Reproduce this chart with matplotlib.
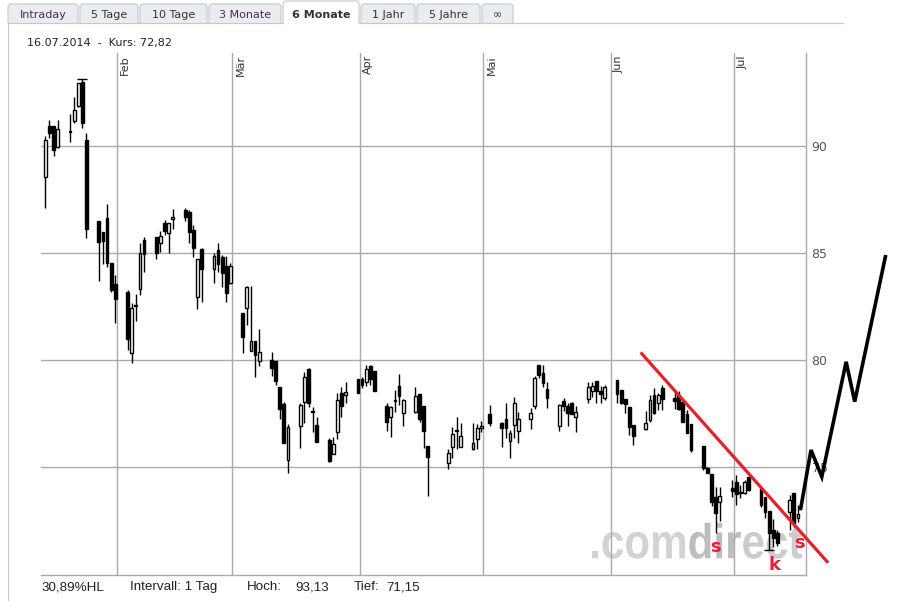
import matplotlib
matplotlib.use("Agg")
import matplotlib.pyplot as plt
import matplotlib.dates as mdates
from matplotlib.patches import FancyBboxPatch, Rectangle, PathPatch
from matplotlib.textpath import TextPath, TextToPath
from matplotlib.font_manager import FontProperties
from matplotlib.transforms import Affine2D
import pandas as pd
import numpy as np

# ---------------- data ----------------
dates = [
    "2014-01-14", "2014-01-15", "2014-01-16", "2014-01-17", "2014-01-20", "2014-01-21", "2014-01-22",
    "2014-01-23", "2014-01-24", "2014-01-27", "2014-01-28", "2014-01-29", "2014-01-30", "2014-01-31",
    "2014-02-03", "2014-02-04", "2014-02-05", "2014-02-06", "2014-02-07", "2014-02-10", "2014-02-11",
    "2014-02-12", "2014-02-13", "2014-02-14", "2014-02-17", "2014-02-18", "2014-02-19", "2014-02-20",
    "2014-02-21", "2014-02-24", "2014-02-25", "2014-02-26", "2014-02-27", "2014-02-28", "2014-03-03",
    "2014-03-04", "2014-03-05", "2014-03-06", "2014-03-07", "2014-03-10", "2014-03-11", "2014-03-12",
    "2014-03-13", "2014-03-14", "2014-03-17", "2014-03-18", "2014-03-19", "2014-03-20", "2014-03-21",
    "2014-03-24", "2014-03-25", "2014-03-26", "2014-03-27", "2014-03-28", "2014-03-31", "2014-04-01",
    "2014-04-02", "2014-04-03", "2014-04-04", "2014-04-07", "2014-04-08", "2014-04-09", "2014-04-10",
    "2014-04-11", "2014-04-14", "2014-04-15", "2014-04-16", "2014-04-17", "2014-04-22", "2014-04-23",
    "2014-04-24", "2014-04-25", "2014-04-28", "2014-04-29", "2014-04-30", "2014-05-02", "2014-05-05",
    "2014-05-06", "2014-05-07", "2014-05-08", "2014-05-09", "2014-05-12", "2014-05-13", "2014-05-14",
    "2014-05-15", "2014-05-16", "2014-05-19", "2014-05-20", "2014-05-21", "2014-05-22", "2014-05-23",
    "2014-05-26", "2014-05-27", "2014-05-28", "2014-05-29", "2014-05-30", "2014-06-02", "2014-06-03",
    "2014-06-04", "2014-06-05", "2014-06-06", "2014-06-09", "2014-06-10", "2014-06-11", "2014-06-12",
    "2014-06-13", "2014-06-16", "2014-06-17", "2014-06-18", "2014-06-19", "2014-06-20", "2014-06-23",
    "2014-06-24", "2014-06-25", "2014-06-26", "2014-06-27", "2014-06-30", "2014-07-01", "2014-07-02",
    "2014-07-03", "2014-07-04", "2014-07-07", "2014-07-08", "2014-07-09", "2014-07-10", "2014-07-11",
    "2014-07-14", "2014-07-15", "2014-07-16",
]
opens = [
    88.58, 90.95, 90.95, 89.95, 90.70, 91.20, 91.90, 92.99, 90.29, 86.51, 85.98, 86.65, 84.56, 83.55,
    83.17, 80.36, 82.57, 83.32, 85.62, 85.78, 85.50, 86.40, 85.96, 86.59, 87.02, 86.93, 86.09, 82.97,
    85.19, 84.25, 85.16, 84.81, 84.41, 83.63, 82.20, 82.43, 80.45, 80.89, 79.98, 80.02, 79.97, 78.74,
    77.96, 75.34, 76.95, 78.07, 79.59, 77.62, 76.98, 76.28, 75.61, 76.67, 78.46, 78.38, 79.15, 79.11,
    79.00, 79.73, 79.50, 77.86, 77.34, 78.09, 78.80, 77.52, 77.57, 78.43, 77.86, 76.00, 75.19, 75.96,
    76.69, 75.96, 75.85, 76.31, 76.86, 77.48, 77.09, 77.24, 76.23, 76.98, 76.70, 77.24, 77.87, 79.78,
    79.39, 78.64, 76.93, 78.12, 77.87, 77.99, 77.37, 78.18, 78.59, 79.05, 78.55, 78.22, 79.08, 78.61,
    78.18, 77.84, 76.98, 76.77, 77.21, 78.40, 78.02, 78.69, 78.22, 78.38, 78.07, 77.49, 77.02, 76.00,
    74.95, 74.69, 73.63, 73.40, 74.02, 74.33, 73.83, 73.81, 74.53, 74.02, 73.63, 72.97, 72.07, 71.95,
    72.93, 73.81, 72.65,
]
highs = [
    90.48, 91.23, 90.95, 91.23, 91.51, 92.29, 92.98, 93.13, 90.64, 86.51, 85.98, 87.30, 84.56, 83.99,
    83.29, 82.67, 83.11, 85.48, 85.78, 85.78, 86.04, 86.56, 86.40, 87.06, 87.10, 87.02, 86.32, 84.72,
    85.23, 85.00, 85.50, 84.92, 84.87, 84.56, 82.20, 83.47, 83.47, 80.89, 81.45, 80.40, 79.97, 78.74,
    78.07, 77.02, 77.99, 79.46, 79.62, 77.80, 77.34, 76.36, 76.44, 78.49, 78.74, 79.00, 79.15, 79.20,
    79.78, 79.78, 79.50, 77.99, 77.86, 78.60, 79.36, 78.20, 78.74, 78.43, 77.86, 76.00, 75.88, 76.90,
    77.33, 77.05, 77.05, 77.02, 77.16, 77.91, 77.13, 77.99, 76.74, 78.27, 77.60, 77.76, 79.27, 79.78,
    79.78, 79.00, 77.96, 78.22, 77.99, 78.05, 77.87, 79.00, 79.00, 79.05, 78.81, 78.86, 79.08, 78.61,
    78.18, 77.84, 76.98, 77.65, 78.38, 78.69, 78.46, 78.85, 78.58, 78.58, 78.18, 77.68, 77.02, 76.00,
    75.03, 74.69, 74.10, 74.10, 74.41, 74.64, 74.18, 74.41, 74.53, 74.02, 73.63, 72.97, 72.57, 72.07,
    73.71, 73.81, 73.24,
]
lows = [
    87.10, 90.37, 89.56, 89.91, 90.22, 91.10, 91.85, 90.84, 85.73, 83.72, 84.50, 84.34, 83.17, 81.73,
    80.48, 79.89, 81.85, 83.06, 84.15, 84.74, 85.08, 85.86, 85.03, 86.12, 86.52, 85.47, 84.81, 82.38,
    82.74, 83.60, 84.14, 83.41, 82.71, 83.57, 80.36, 81.65, 80.45, 79.20, 79.75, 79.27, 78.85, 77.24,
    76.15, 74.72, 75.89, 77.06, 77.80, 76.67, 76.20, 75.26, 75.61, 76.31, 77.34, 78.02, 78.49, 78.69,
    78.80, 78.86, 78.55, 76.72, 76.44, 77.60, 77.91, 76.95, 77.55, 77.13, 75.89, 73.67, 74.91, 75.42,
    75.88, 75.96, 75.83, 75.85, 76.66, 76.93, 75.96, 76.35, 75.42, 76.35, 76.15, 76.77, 77.71, 79.16,
    78.74, 77.76, 76.71, 77.65, 76.93, 77.49, 76.66, 77.99, 78.27, 78.02, 78.02, 78.15, 77.99, 77.96,
    77.53, 76.51, 76.04, 76.74, 77.13, 77.50, 77.68, 77.68, 77.71, 77.68, 77.13, 76.59, 75.73, 74.87,
    74.72, 73.20, 71.95, 72.47, 73.63, 73.24, 73.55, 73.75, 73.90, 73.16, 72.62, 71.15, 71.30, 71.32,
    72.07, 72.22, 72.46,
]
closes = [
    90.29, 90.64, 89.83, 90.79, 90.66, 91.70, 92.94, 91.10, 86.12, 85.54, 85.59, 84.56, 83.29, 82.88,
    80.98, 82.43, 82.53, 85.00, 84.95, 85.00, 85.81, 86.06, 86.40, 86.71, 86.71, 86.01, 85.26, 84.72,
    84.25, 84.87, 84.48, 84.06, 83.13, 84.41, 81.07, 83.41, 80.89, 80.25, 80.40, 79.62, 79.05, 77.71,
    76.15, 76.87, 77.91, 79.20, 77.99, 77.58, 76.20, 75.31, 76.07, 78.14, 77.86, 78.53, 78.49, 78.84,
    79.58, 79.11, 78.57, 77.13, 77.80, 78.13, 78.33, 78.14, 78.33, 77.26, 76.72, 75.50, 75.65, 76.54,
    76.73, 76.46, 76.12, 76.82, 76.90, 77.09, 76.82, 76.82, 76.59, 78.02, 77.24, 77.56, 79.16, 79.31,
    78.93, 78.22, 77.91, 77.87, 77.53, 77.49, 77.60, 78.74, 78.81, 78.59, 78.42, 78.74, 78.43, 77.99,
    77.95, 76.90, 76.46, 77.05, 78.15, 77.56, 78.38, 78.18, 78.12, 77.71, 77.13, 76.62, 75.81, 74.95,
    74.75, 73.37, 72.86, 73.66, 73.91, 73.75, 73.79, 74.33, 73.94, 73.24, 72.93, 71.95, 71.68, 71.45,
    73.47, 72.38, 72.82,
]

y_ticks = [75, 80, 85, 90]
month_starts = ["2014-02-01", "2014-03-01", "2014-04-01", "2014-05-01", "2014-06-01", "2014-07-01"]
month_labels = ["Feb", "Mär", "Apr", "Mai", "Jun", "Jul"]

# hand-drawn annotations
trend_dates = ["2014-06-08 06:00", "2014-07-23 20:00"]
trend_vals = [80.37, 70.54]
proj_dates = ["2014-07-17 04:00", "2014-07-19 16:00", "2014-07-22 07:00",
              "2014-07-28 05:00", "2014-07-30 07:00", "2014-08-06 18:00"]
proj_vals = [73.08, 75.81, 74.56, 79.93, 78.07, 84.84]
marks_text = ["s", "k", "s"]
marks_dates = ["2014-06-26 12:00", "2014-07-10 18:00", "2014-07-16 18:00"]
marks_vals = [71.30, 70.42, 71.46]

tab_labels = ["Intraday", "5 Tage", "10 Tage", "3 Monate", "6 Monate", "1 Jahr", "5 Jahre", "∞"]
header_text = "16.07.2014  -  Kurs: 72,82"
footer_hl = "30,89%HL"
footer_interval = "Intervall: 1 Tag"
high_value = "93,13"
low_value = "71,15"

# ---------------- figure ----------------
W, H = 903, 601
fig = plt.figure(figsize=(W / 100, H / 100), dpi=100)
fig.patch.set_facecolor("white")

bg = fig.add_axes([0, 0, 1, 1], zorder=0)
bg.set_xlim(0, W)
bg.set_ylim(H, 0)
bg.axis("off")

# tabs
tab_edges = [(8, 78), (80, 138), (140, 207), (209, 281), (283, 359), (361, 415), (417, 480), (482, 513)]
active = 4
for i, (lab, (x0, x1)) in enumerate(zip(tab_labels, tab_edges)):
    top = 1 if i == active else 4
    fc = "white" if i == active else "#e9edf0"
    bg.add_patch(FancyBboxPatch((x0, top), x1 - x0, 30 - top,
                                boxstyle="round,pad=0,rounding_size=3",
                                fc=fc, ec="#c3c8cc", lw=0.8, zorder=1))
    col = "#4a2a55" if lab in ("Intraday", "3 Monate") else "#333333"
    bg.text((x0 + x1) / 2, 15 if i != active else 14.5, lab, ha="center", va="center",
            fontsize=8, family="DejaVu Sans", color=col,
            fontweight="bold" if i == active else "normal", zorder=3)
bg.add_patch(Rectangle((0, 22.5), W, 12, fc="white", ec="none", zorder=2))
bg.plot([8, 283], [22.5, 22.5], color="#c3c8cc", lw=0.8, zorder=3)
bg.plot([359, 843], [22.5, 22.5], color="#c3c8cc", lw=0.8, zorder=3)
bg.plot([8.5, 8.5], [22.5, H], color="#c8c8c8", lw=0.8, zorder=3)

bg.text(27, 43, header_text, ha="left", va="center", fontsize=8,
        family="DejaVu Sans", color="#222222")

ffam = "Liberation Sans"
fy = 587
bg.text(42, fy, footer_hl, ha="left", va="center", fontsize=9.6, family=ffam, color="#222222")
bg.text(130, fy, footer_interval, ha="left", va="center", fontsize=9.6, family=ffam, color="#222222")
bg.text(246.5, fy, "Hoch:", ha="left", va="center", fontsize=9.6, family=ffam, color="#222222")
bg.text(295, fy, high_value, ha="left", va="center", fontsize=9.6, family=ffam, color="#222222")
bg.text(353.5, fy, "Tief:", ha="left", va="center", fontsize=9.6, family=ffam, color="#222222")
bg.text(386.5, fy, low_value, ha="left", va="center", fontsize=9.6, family=ffam, color="#222222")

# watermark
wm_prop = FontProperties(family="Liberation Sans", weight="bold", size=100)
t2p = TextToPath()
pieces = [(".com", "#d2d2d2"), ("dir", "#bdbdbd"), ("ect", "#cccccc")]
xoff = 0.0
wm_paths = []
for s, c in pieces:
    p = TextPath((xoff, 0), s, size=100, prop=wm_prop)
    wm_paths.append((p, c))
    w, h, d = t2p.get_text_width_height_descent(s, wm_prop, ismath=False)
    xoff += w
xmin = wm_paths[0][0].get_extents().x0
xmax = wm_paths[-1][0].get_extents().x1
sx = (802 - 592) / (xmax - xmin)
sy = 0.49
tr = Affine2D().translate(-xmin, 0).scale(sx, -sy).translate(592, 558.3)
for p, c in wm_paths:
    bg.add_patch(PathPatch(tr.transform_path(p), fc=c, ec="none", zorder=1))

# ---------------- main chart ----------------
ax = fig.add_axes([41 / W, (H - 575) / H, 765 / W, 522 / H], zorder=1)
ax.patch.set_visible(False)

t = pd.to_datetime(dates) + pd.Timedelta(hours=12)
x = mdates.date2num(t.to_pydatetime())
o = np.array(opens); c = np.array(closes); hi = np.array(highs); lo = np.array(lows)

ax.vlines(x, lo, hi, color="black", lw=1.0, zorder=3)
up = c >= o
bottom = np.minimum(o, c)
height = np.maximum(np.abs(c - o), 0.05)
ax.bar(x[up], height[up], bottom=bottom[up], width=0.68, color="white",
       edgecolor="black", linewidth=1.0, zorder=4)
ax.bar(x[~up], height[~up], bottom=bottom[~up], width=0.68, color="black",
       edgecolor="black", linewidth=1.0, zorder=4)

# high / low markers
imax = int(np.argmax(hi)); imin = int(np.argmin(lo))
ax.hlines([hi[imax]], x[imax] - 1.25, x[imax] + 1.25, color="black", lw=1.0, zorder=4)
ax.hlines([lo[imin]], x[imin] - 1.25, x[imin] + 1.25, color="black", lw=1.0, zorder=4)

xl0 = mdates.date2num(pd.Timestamp("2014-01-13 10:48").to_pydatetime())
xl1 = mdates.date2num(pd.Timestamp("2014-07-18 10:48").to_pydatetime())
ax.set_xlim(xl0, xl1)
ax.set_ylim(69.97, 94.36)

ms = mdates.date2num(pd.to_datetime(month_starts).to_pydatetime())
ax.set_xticks(ms)
ax.set_xticklabels([])
ax.set_yticks(y_ticks)
ax.set_yticklabels([str(v) for v in y_ticks])
ax.yaxis.tick_right()
ax.tick_params(axis="both", length=0)
ax.tick_params(axis="y", pad=4, labelsize=9, labelcolor="#555555")
for lab in ax.get_yticklabels():
    lab.set_family("DejaVu Sans")
ax.grid(True, color="#aaaaaa", lw=1.0, zorder=0)
ax.set_axisbelow(True)
for sp in ["top", "left"]:
    ax.spines[sp].set_visible(False)
for sp in ["right", "bottom"]:
    ax.spines[sp].set_color("#aaaaaa")
    ax.spines[sp].set_linewidth(1.0)

for m, lab in zip(ms, month_labels):
    ax.annotate(lab, xy=(m, 1), xycoords=("data", "axes fraction"),
                xytext=(2.2, -1.5), textcoords="offset points", rotation=90,
                ha="left", va="top", fontsize=8, family="DejaVu Sans", color="#333333")

# trend line and projection
td = mdates.date2num(pd.to_datetime(trend_dates).to_pydatetime())
ax.plot(td, trend_vals, color="#e8202a", lw=2.3, solid_capstyle="butt", clip_on=False, zorder=6)
pdn = mdates.date2num(pd.to_datetime(proj_dates).to_pydatetime())
ax.plot(pdn, proj_vals, color="black", lw=2.6, clip_on=False, zorder=7,
        solid_joinstyle="miter")

mdn = mdates.date2num(pd.to_datetime(marks_dates).to_pydatetime())
for s, xx, yy in zip(marks_text, mdn, marks_vals):
    ax.text(xx, yy, s, ha="center", va="center", fontsize=13, fontweight="bold",
            family="DejaVu Sans", color="#ee1c3a", zorder=8, clip_on=False)

fig.savefig("out.png", dpi=100, facecolor="white")
